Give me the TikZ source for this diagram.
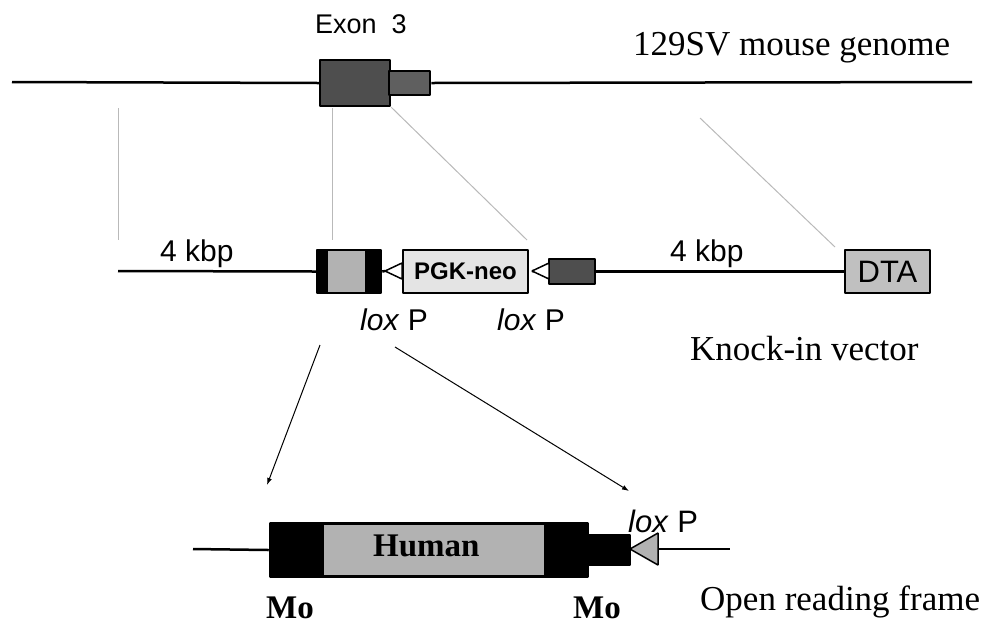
\documentclass[tikz,border=0pt]{standalone}
\usepackage{fontspec}
\setmainfont{Liberation Serif}
\setsansfont{Liberation Sans}
\usetikzlibrary{arrows.meta}

\definecolor{exondark}{RGB}{78,78,78}
\definecolor{exontail}{RGB}{95,95,95}
\definecolor{humangray}{RGB}{178,178,178}
\definecolor{neogray}{RGB}{228,228,228}
\definecolor{dtagray}{RGB}{192,192,192}

\begin{document}
\begin{tikzpicture}[x=1pt, y=-1pt, line join=bevel,
  dna/.style={line width=2.5pt},
  guide/.style={gray!55, line width=1pt},
  box/.style={draw, line width=2.5pt, inner sep=0pt},
  loxtri/.style={draw, line width=1.5pt, fill=white},
  sanstxt/.style={font=\sffamily\fontsize{#1}{#1}\selectfont},
  sanstxt/.default=30,
  seriftxt/.style={font=\fontsize{#1}{#1}\selectfont},
  seriftxt/.default=35,
  lbl/.style={anchor=base west, inner sep=0pt},
  pointer/.style={line width=1pt, -{Latex[length=7pt,width=5pt]}}]

\useasboundingbox (0,0) rectangle (984,625);

% genome
\coordinate (gL) at (12,82);
\coordinate (gR) at (972,82);
\node[box, fill=exondark, minimum width=70, minimum height=46] (ex3) at (355,83) {};
\node[box, fill=exontail, minimum width=41, minimum height=24] (ex3t) at (409.5,83) {};
\draw[dna] (gL) -- (ex3.west);
\draw[dna] (ex3t.east) -- (gR);
\node[lbl, sanstxt=27] (ex3lbl) at (315,33) {Exon\ \ 3};
\node[lbl, seriftxt] (genlbl) at (633,55) {129SV mouse genome};

% knock-in vector
\coordinate (armL) at (118,271);
\node[box, fill=black, minimum width=10, minimum height=43] (kiL) at (322,271.5) {};
\node[box, fill=humangray, minimum width=39, minimum height=43] (kiM) at (346.5,271.5) {};
\node[box, fill=black, minimum width=15, minimum height=43] (kiR) at (373.5,271.5) {};
\coordinate (lox1) at (385,271);
\node[box, fill=neogray, minimum width=125, minimum height=43, sanstxt=24] (neo) at (465.5,271.5) {\bfseries PGK-neo};
\coordinate (lox2) at (532,271);
\node[box, fill=exondark, minimum width=46, minimum height=25] (kiT) at (572,271.5) {};
\node[box, fill=dtagray, minimum width=85, minimum height=43, sanstxt=31] (dta) at (887.5,271.5) {DTA};

\draw[dna] (armL) -- (kiL.west);
\draw[dna] (kiR.east) -- (lox1);
\draw[dna] (lox2) -- (kiT.west);
\draw[dna] (kiT.east) -- (dta.west);
\draw[loxtri] (lox1) -- ++(17,-8) -- ++(0,16) -- cycle;
\draw[loxtri] (lox2) -- ++(17,-8) -- ++(0,16) -- cycle;

\node[lbl, sanstxt] (kb1) at (160,261) {4 kbp};
\node[lbl, sanstxt] (kb2) at (670,261) {4 kbp};
\node[lbl, sanstxt] (loxlbl1) at (360,330) {\textit{lox} P};
\node[lbl, sanstxt] (loxlbl2) at (497,330) {\textit{lox} P};
\node[lbl, seriftxt] (kilbl) at (690,360) {Knock-in vector};

% homology guides
\draw[guide] (118,108) -- (118,240);
\draw[guide] (332,108) -- (332,240);
\draw[guide] (ex3.south east) -- (527,240);
\draw[guide] (700,118) -- (835,247);

% open reading frame
\coordinate (orfL) at (193,549);
\coordinate (orfR) at (730,549);
\node[box, fill=black, minimum width=53, minimum height=53] (moL) at (296.5,550) {};
\node[box, fill=humangray, minimum width=222, minimum height=53] (hum) at (434,550) {};
\node[box, fill=black, minimum width=43, minimum height=53] (moR) at (566.5,550) {};
\node[box, fill=black, minimum width=42, minimum height=30] (moT) at (609,550) {};
\coordinate (lox3) at (630,549);
\draw[dna] (orfL) -- (moL.west);
\draw[dna] (lox3) ++(28,0) -- (orfR);
\draw[loxtri, fill=humangray] (lox3) -- ++(28,-16) -- ++(0,32) -- cycle;

\node[lbl, seriftxt=33] (humlbl) at (373,556) {\bfseries Human};
\node[lbl, sanstxt=31] (loxlbl3) at (628,532) {\textit{lox} P};
\node[lbl, seriftxt=33] (molbl1) at (266,618) {\bfseries Mo};
\node[lbl, seriftxt=33] (molbl2) at (573,618) {\bfseries Mo};
\node[lbl, seriftxt] (orflbl) at (700,610) {Open reading frame};

% insert arrows
\coordinate (pA) at (320,345);
\coordinate (pB) at (395,347);
\coordinate (tA) at (267,485);
\coordinate (tB) at (629,491);
\draw[pointer] (pA) -- (tA);
\draw[pointer] (pB) -- (tB);
\end{tikzpicture}
\end{document}
